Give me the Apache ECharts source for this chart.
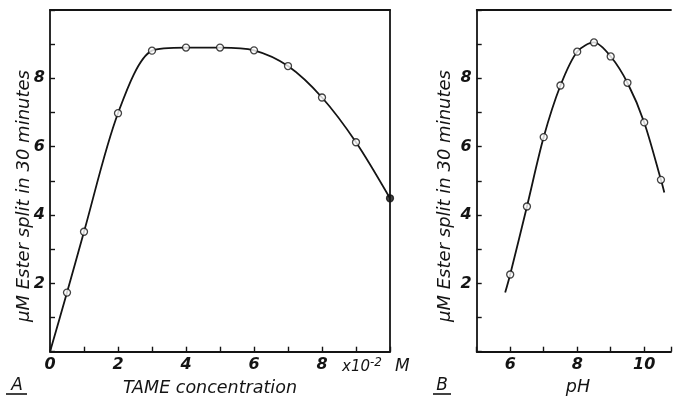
<!DOCTYPE html>
<html>
<head>
<meta charset="utf-8">
<script src="https://cdn.jsdelivr.net/npm/echarts@6/dist/echarts.min.js"></script>
<style>
  html, body { margin: 0; padding: 0; background: #fff; }
  #main { width: 674px; height: 398px; }
</style>
</head>
<body>
<div id="main"></div>
<script>
// panel A: TAME concentration (x10^-2 M) vs uM ester split
var tameConc = [0.5, 1, 2, 3, 4, 5, 6, 7, 8, 9, 10];
var tameSplit = [1.73, 3.51, 6.98, 8.81, 8.90, 8.90, 8.82, 8.36, 7.44, 6.13, 4.49];
var tameLineStart = [0, 0];

// panel B: pH vs uM ester split
var phValues = [6, 6.5, 7, 7.5, 8, 8.5, 9, 9.5, 10, 10.5];
var phSplit = [2.26, 4.25, 6.28, 7.79, 8.78, 9.05, 8.64, 7.87, 6.71, 5.03];
var phLineStart = [5.85, 1.73];
var phLineEnd = [10.6, 4.66];

// tick labels
var xLabelsA = [0, 2, 4, 6, 8];
var xLabelsB = [6, 8, 10];
var yLabels = [2, 4, 6, 8];

var font = '"DejaVu Sans", sans-serif';
var ink = '#141414';

function pairs(xs, ys) {
  return xs.map(function (x, i) { return [x, ys[i]]; });
}

function showOnly(list) {
  return function (v) { return list.indexOf(v) >= 0 ? String(v) : ''; };
}

function axisBase(min, max, labels) {
  return {
    type: 'value', min: min, max: max, interval: 1,
    axisLine: { lineStyle: { color: ink, width: 1.8 } },
    axisTick: { inside: true, length: 5, lineStyle: { color: ink, width: 1.4 } },
    axisLabel: {
      formatter: showOnly(labels), color: ink, fontSize: 16, fontWeight: 'bold',
      fontStyle: 'italic', fontFamily: font, margin: 5
    },
    splitLine: { show: false }
  };
}

// frame side: only a line, no ticks or labels
function frameSide(min, max, gridIndex, position) {
  return {
    type: 'value', min: min, max: max, gridIndex: gridIndex, position: position,
    axisLine: { onZero: false, lineStyle: { color: ink, width: 1.8 } },
    axisTick: { show: false }, axisLabel: { show: false }, splitLine: { show: false }
  };
}

var lineA = [tameLineStart].concat(pairs(tameConc, tameSplit));
var lineB = [phLineStart].concat(pairs(phValues, phSplit), [phLineEnd]);

var markA = pairs(tameConc, tameSplit).map(function (p, i) {
  // last point sits on the frame and looks filled
  if (i === tameConc.length - 1) return { value: p, itemStyle: { color: ink } };
  return p;
});

var lineStyle = { color: ink, width: 1.8 };
var markerStyle = { color: '#fff', borderColor: ink, borderWidth: 1.3 };

var option = {
  animation: false,
  grid: [
    { left: 50, top: 10, width: 340, height: 341.7 },
    { left: 476.7, top: 10, width: 197.3, height: 341.7 }
  ],
  xAxis: [
    Object.assign(axisBase(0, 10, xLabelsA), { gridIndex: 0 }),
    Object.assign(axisBase(5, 10.8, xLabelsB), { gridIndex: 1 }),
    frameSide(0, 10, 0, 'top'),
    frameSide(5, 10.8, 1, 'top')
  ],
  yAxis: [
    Object.assign(axisBase(0, 10, yLabels), { gridIndex: 0 }),
    Object.assign(axisBase(0, 10, yLabels), { gridIndex: 1 }),
    frameSide(0, 10, 0, 'right')
  ],
  series: [
    { type: 'line', xAxisIndex: 0, yAxisIndex: 0, data: lineA, smooth: 0.3,
      showSymbol: false, lineStyle: lineStyle, z: 2 },
    { type: 'scatter', xAxisIndex: 0, yAxisIndex: 0, data: markA, symbolSize: 7,
      itemStyle: markerStyle, z: 3 },
    { type: 'line', xAxisIndex: 1, yAxisIndex: 1, data: lineB, smooth: 0.3,
      showSymbol: false, lineStyle: lineStyle, z: 2 },
    { type: 'scatter', xAxisIndex: 1, yAxisIndex: 1, data: pairs(phValues, phSplit), symbolSize: 7,
      itemStyle: markerStyle, z: 3 }
  ],
  graphic: [
    { type: 'text', x: 24, y: 196, rotation: Math.PI / 2,
      style: { text: 'μM Ester split in 30 minutes', font: 'italic 18px ' + font, fill: ink,
               textAlign: 'center', textVerticalAlign: 'middle' } },
    { type: 'text', x: 445, y: 196, rotation: Math.PI / 2,
      style: { text: 'μM Ester split in 30 minutes', font: 'italic 18px ' + font, fill: ink,
               textAlign: 'center', textVerticalAlign: 'middle' } },
    { type: 'text', x: 210, y: 388,
      style: { text: 'TAME concentration', font: 'italic 17.5px ' + font, fill: ink,
               textAlign: 'center', textVerticalAlign: 'middle' } },
    { type: 'text', x: 578, y: 387,
      style: { text: 'pH', font: 'italic 17.5px ' + font, fill: ink,
               textAlign: 'center', textVerticalAlign: 'middle' } },
    { type: 'text', x: 342, y: 367,
      style: { text: '{n|x10}{s|-2}', fill: ink, textAlign: 'left', textVerticalAlign: 'middle',
               rich: { n: { font: 'italic 15px ' + font, fill: ink },
                       s: { font: 'italic 12px ' + font, fill: ink, verticalAlign: 'top', padding: [0, 0, 8, 0] } } } },
    { type: 'text', x: 395, y: 367,
      style: { text: 'M', font: 'italic 17px ' + font, fill: ink, textAlign: 'left', textVerticalAlign: 'middle' } },
    { type: 'text', x: 17, y: 386,
      style: { text: 'A', font: 'italic 17px ' + font, fill: ink, textAlign: 'center', textVerticalAlign: 'middle' } },
    { type: 'line', shape: { x1: 6, y1: 394, x2: 27, y2: 394 }, style: { stroke: ink, lineWidth: 1.6 } },
    { type: 'text', x: 442, y: 386,
      style: { text: 'B', font: 'italic 17px ' + font, fill: ink, textAlign: 'center', textVerticalAlign: 'middle' } },
    { type: 'line', shape: { x1: 433, y1: 394, x2: 451, y2: 394 }, style: { stroke: ink, lineWidth: 1.6 } }
  ]
};

var myChart = echarts.init(document.getElementById('main'));
myChart.setOption(option);
</script>
</body>
</html>
